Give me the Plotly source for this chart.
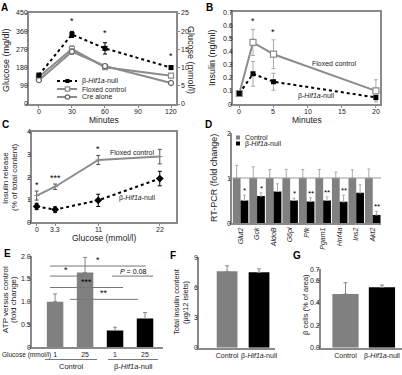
import plotly.graph_objects as go

W, H = 402, 375
def px(x): return x / W
def py(y): return 1 - y / H

FONT = "Liberation Sans, Arial, sans-serif"
GRAY = "#8c8c8c"
BARGRAY = "#808080"
AXC = "#8a8a8a"

# ---------------- Panel A: glucose tolerance ----------------
a_minutes = [0, 30, 60, 120]
a_null = [143, 344, 275, 180]
a_null_err = [8, 15, 28, 8]
a_flox = [133, 272, 182, 140]
a_flox_err = [8, 16, 8, 6]
a_cre = [118, 259, 188, 104]
a_cre_err = [6, 14, 10, 5]
a_star_minutes = [30, 60, 120]
a_xticks = [0, 30, 60, 90, 120]
a_yticks = [0, 90, 180, 270, 360, 450]
a_y2ticks = [0, 5, 10, 15, 20, 25]

# ---------------- Panel B: insulin in vivo ----------------
b_minutes = [0, 2, 5, 20]
b_flox = [0.08, 0.47, 0.38, 0.10]
b_flox_err = [0.01, 0.10, 0.11, 0.085]
b_null = [0.08, 0.23, 0.17, 0.05]
b_null_err = [0.01, 0.095, 0.065, 0.02]
b_star_minutes = [2, 5]
b_xticks = [0, 5, 10, 15, 20]
b_yticks = [0, 0.1, 0.2, 0.3, 0.4, 0.5, 0.6, 0.7]
b_ylabels = ["0", "0.1", "0.2", "0.3", "0.4", "0.5", "0.6", "0.7"]

# ---------------- Panel C: insulin release ----------------
c_glucose = [0, 3.3, 11, 22]
c_glucose_labels = ["0", "3.3", "11", "22"]
c_flox = [1.18, 1.57, 2.75, 2.9]
c_flox_err = [0.2, 0.12, 0.2, 0.32]
c_null = [0.7, 0.56, 0.97, 1.93]
c_null_err = [0.14, 0.12, 0.27, 0.32]
c_stars = ["*", "***", "*", ""]
c_yticks = [0, 1, 2, 3, 4]

# ---------------- Panel D: RT-PCR ----------------
d_genes = ["Glut2", "Gck", "AldoB", "G6pi", "Pfk", "Pgam1", "Hnf4a", "Ins2", "Akt2"]
d_control = [1, 1, 1, 1, 1, 1, 1, 1, 1]
d_control_err = [0.28, 0.25, 0.19, 0.19, 0.19, 0.19, 0.13, 0.18, 0.2]
d_null = [0.5, 0.6, 0.7, 0.5, 0.48, 0.5, 0.47, 0.67, 0.18]
d_null_err = [0.12, 0.07, 0.17, 0.05, 0.08, 0.08, 0.15, 0.18, 0.08]
d_stars = ["*", "*", "", "*", "**", "**", "**", "", "**"]
d_yticks = [0, 1, 2]

# ---------------- Panel E: ATP ----------------
e_keys = ["c1", "c25", "n1", "n25"]
e_glucose = ["1", "25", "1", "25"]
e_values = [1.0, 1.64, 0.37, 0.63]
e_err = [0.17, 0.33, 0.07, 0.13]
e_colors = [BARGRAY, BARGRAY, "black", "black"]
e_yticks = [0, 0.5, 1, 1.5, 2]
e_ylabels = ["0", "0.5", "1.0", "1.5", "2.0"]

# ---------------- Panel F: insulin content ----------------
f_groups = ["Control", "β-<i>Hif1a</i>-null"]
f_values = [7.6, 7.5]
f_err = [0.55, 0.35]
f_yticks = [0, 3, 6, 9]

# ---------------- Panel G: beta cells ----------------
g_groups = ["Control", "β-<i>Hif1a</i>-null"]
g_values = [0.48, 0.54]
g_err = [0.1, 0.02]
g_yticks = [0, 0.2, 0.4, 0.6, 0.7]
g_ylabels = ["0.0", "0.2", "0.4", "0.6", "0.7"]
bar_colors = [BARGRAY, "black"]

fig = go.Figure()

# Panel A traces
fig.add_trace(go.Scatter(x=a_minutes, y=a_flox, mode="lines+markers", xaxis="x", yaxis="y",
    line=dict(color=GRAY, width=2),
    marker=dict(symbol="square", size=5, color="white", line=dict(color=GRAY, width=1.2)),
    error_y=dict(type="data", array=a_flox_err, color=GRAY, thickness=1, width=2), showlegend=False))
fig.add_trace(go.Scatter(x=a_minutes, y=a_cre, mode="lines+markers", xaxis="x", yaxis="y",
    line=dict(color=GRAY, width=2),
    marker=dict(symbol="circle", size=5, color="white", line=dict(color="#666", width=1.2)),
    error_y=dict(type="data", array=a_cre_err, color=GRAY, thickness=1, width=2), showlegend=False))
fig.add_trace(go.Scatter(x=a_minutes, y=a_null, mode="lines+markers", xaxis="x", yaxis="y",
    line=dict(color="black", width=2, dash="dot"),
    marker=dict(symbol="square", size=5, color="black"),
    error_y=dict(type="data", array=a_null_err, color="black", thickness=1, width=2), showlegend=False))

# Panel B traces
fig.add_trace(go.Scatter(x=b_minutes, y=b_flox, mode="lines+markers", xaxis="x2", yaxis="y3",
    line=dict(color=GRAY, width=2),
    marker=dict(symbol="square", size=6, color="white", line=dict(color=GRAY, width=1.2)),
    error_y=dict(type="data", array=b_flox_err, color="#aaa", thickness=1, width=2), showlegend=False))
fig.add_trace(go.Scatter(x=b_minutes, y=b_null, mode="lines+markers", xaxis="x2", yaxis="y3",
    line=dict(color="black", width=2, dash="dot"),
    marker=dict(symbol="square", size=5, color="black"),
    error_y=dict(type="data", array=b_null_err, color="#aaa", thickness=1, width=2), showlegend=False))

# Panel C traces
fig.add_trace(go.Scatter(x=c_glucose, y=c_flox, mode="lines+markers", xaxis="x3", yaxis="y4",
    line=dict(color=GRAY, width=2),
    marker=dict(symbol="line-ew", size=4, color=GRAY, line=dict(color=GRAY, width=1)),
    error_y=dict(type="data", array=c_flox_err, color="#555", thickness=1, width=2), showlegend=False))
fig.add_trace(go.Scatter(x=c_glucose, y=c_null, mode="lines+markers", xaxis="x3", yaxis="y4",
    line=dict(color="black", width=2, dash="dot"),
    marker=dict(symbol="diamond", size=6, color="black"),
    error_y=dict(type="data", array=c_null_err, color="black", thickness=1, width=2), showlegend=False))

# Panel D traces
fig.add_trace(go.Bar(x=d_genes, y=d_control, xaxis="x4", yaxis="y5", marker_color=BARGRAY,
    error_y=dict(type="data", array=d_control_err, arrayminus=[0]*9, symmetric=False, color="#aaa", thickness=1, width=1.5),
    showlegend=False))
fig.add_trace(go.Bar(x=d_genes, y=d_null, xaxis="x4", yaxis="y5", marker_color="black",
    error_y=dict(type="data", array=d_null_err, arrayminus=[0]*9, symmetric=False, color="#aaa", thickness=1, width=1.5),
    showlegend=False))

# Panel E
fig.add_trace(go.Bar(x=e_keys, y=e_values, xaxis="x5", yaxis="y6", marker_color=e_colors, width=0.55,
    error_y=dict(type="data", array=e_err, arrayminus=[0]*4, symmetric=False, color="#888", thickness=1, width=2),
    showlegend=False))
# Panel F
fig.add_trace(go.Bar(x=f_groups, y=f_values, xaxis="x6", yaxis="y7", marker_color=bar_colors, width=0.65,
    error_y=dict(type="data", array=f_err, arrayminus=[0]*2, symmetric=False, color="#888", thickness=1, width=2),
    showlegend=False))
# Panel G
fig.add_trace(go.Bar(x=g_groups, y=g_values, xaxis="x7", yaxis="y8", marker_color=bar_colors, width=0.72,
    error_y=dict(type="data", array=g_err, arrayminus=[0]*2, symmetric=False, color="#888", thickness=1, width=2),
    showlegend=False))

def ax(**kw):
    base = dict(showgrid=False, zeroline=False, showline=True, linecolor=AXC, linewidth=1.5,
                ticks="outside", ticklen=2, tickcolor=AXC, tickwidth=1,
                tickfont=dict(family=FONT, size=7, color="#222"),
                automargin=False, ticklabeloverflow="allow")
    base.update(kw)
    return base

fig.update_layout(
    template="none",
    width=W, height=H, margin=dict(l=0, r=0, t=0, b=0),
    paper_bgcolor="white", plot_bgcolor="white",
    font=dict(family=FONT, size=8, color="#222"),
    bargap=0.06, bargroupgap=0,
    # A
    xaxis=ax(domain=[px(29), px(176)], range=[-9, 124.5], tickmode="array", tickvals=a_xticks, showticklabels=False, anchor="y", mirror=True),
    yaxis=ax(domain=[py(104), py(13)], range=[0, 450], tickmode="array", tickvals=a_yticks, showticklabels=False, anchor="x"),
    yaxis2=ax(domain=[py(104), py(13)], range=[0, 25], tickmode="array", tickvals=a_y2ticks, showticklabels=False,
              overlaying="y", side="right", anchor="x"),
    # B
    xaxis2=ax(domain=[px(233.3), px(380)], range=[-0.88, 20.6], tickmode="array", tickvals=b_xticks, showticklabels=False, anchor="y3", mirror=True),
    yaxis3=ax(domain=[py(104), py(12.3)], range=[0, 0.7], tickmode="array", tickvals=b_yticks, showticklabels=False, anchor="x2", mirror=True),
    # C
    xaxis3=ax(domain=[px(31.7), px(176)], range=[-0.89, 24.9], tickmode="array", tickvals=c_glucose, showticklabels=False, anchor="y4", mirror=True),
    yaxis4=ax(domain=[py(222.3), py(131.7)], range=[0, 4], tickmode="array", tickvals=c_yticks, showticklabels=False, anchor="x3", mirror=True),
    # D
    xaxis4=ax(domain=[px(232.3), px(381)], range=[-0.5, 8.5], anchor="y5", ticks="", tickangle=-90,
              tickmode="array", tickvals=d_genes, ticktext=["<i>%s</i>" % g for g in d_genes]),
    yaxis5=ax(domain=[py(223), py(133)], range=[0, 2], tickmode="array", tickvals=d_yticks, showticklabels=False, anchor="x4"),
    # E
    xaxis5=ax(domain=[px(31.7), px(163)], range=[-0.78, 3.6], anchor="y6", ticks="",
              tickmode="array", tickvals=e_keys, ticktext=e_glucose),
    yaxis6=ax(domain=[py(347.3), py(256)], range=[0, 2], tickmode="array", tickvals=e_yticks, showticklabels=False, anchor="x5"),
    # F
    xaxis6=ax(domain=[px(199.3), px(275)], range=[-0.87, 1.5], anchor="y7", ticks=""),
    yaxis7=ax(domain=[py(347.7), py(257.3)], range=[0, 9], tickmode="array", tickvals=f_yticks, showticklabels=False, anchor="x6"),
    # G
    xaxis7=ax(domain=[px(320.7), px(402)], range=[-0.68, 1.55], anchor="y8", ticks=""),
    yaxis8=ax(domain=[py(347.7), py(269.3)], range=[0, 0.7], tickmode="array", tickvals=g_yticks, showticklabels=False, anchor="x7"),
)

ann = []
shapes = []
TICKFONT = dict(family=FONT, size=7, color="#222")

def text_width(t, size=7):
    # approximate Liberation Sans advance widths
    w = 0.0
    for ch in t:
        w += 0.278 if ch in ".," else 0.556
    return w * size

def ylabels(xref, yref, vals, texts=None, right=False):
    texts = texts or [str(v) for v in vals]
    for v, t in zip(vals, texts):
        shift = 3 if right else -(3 + text_width(t))
        ann.append(dict(x=1 if right else 0, xref=xref + " domain", y=v, yref=yref, text=t, showarrow=False,
                        xanchor="left", xshift=shift, yanchor="middle", font=TICKFONT))

def xlabels(xref, yref, vals, texts=None):
    texts = texts or [str(v) for v in vals]
    for v, t in zip(vals, texts):
        ann.append(dict(x=v, xref=xref, y=0, yref=yref + " domain", text=t, showarrow=False,
                        xanchor="center", yanchor="top", yshift=-2, font=TICKFONT))

ylabels("x", "y", a_yticks)
ylabels("x", "y2", a_y2ticks, right=True)
xlabels("x", "y", a_xticks)
ylabels("x2", "y3", b_yticks, b_ylabels)
xlabels("x2", "y3", b_xticks)
ylabels("x3", "y4", c_yticks)
xlabels("x3", "y4", c_glucose, c_glucose_labels)
ylabels("x4", "y5", d_yticks)
ylabels("x5", "y6", e_yticks, e_ylabels)
ylabels("x6", "y7", f_yticks)
ylabels("x7", "y8", g_yticks, g_ylabels)

def ptext(x, y, text, size=9, angle=0, xanchor="center", yanchor="middle", bold=False, color="#222"):
    t = "<b>%s</b>" % text if bold else text
    ann.append(dict(x=px(x), y=py(y), xref="paper", yref="paper", text=t, showarrow=False,
                    textangle=angle, xanchor=xanchor, yanchor=yanchor,
                    font=dict(family=FONT, size=size, color=color)))

# panel letters
for L, x, y in [("A", -1, 7), ("B", 204, 7), ("C", 0, 124), ("D", 203, 124), ("E", 2, 253), ("F", 168, 255), ("G", 291, 255)]:
    ptext(x, y, L, size=10, bold=True, xanchor="left", color="black")

# axis titles
ptext(104, 119.5, "Minutes", 8.5)
ptext(6, 60, "Glucose (mg/dl)", 9, angle=-90)
ptext(191, 60, "Glucose (mmol/l)", 9, angle=90)
ptext(307, 119.5, "Minutes", 8.5)
ptext(212, 58, "Insulin (ng/ml)", 9, angle=-90)
ptext(104, 237.5, "Glucose (mmol/l)", 8.5)
ptext(5, 178, "Insulin release", 8, angle=-90)
ptext(14, 178, "(% of total content)", 8, angle=-90)
ptext(214, 178, "RT-PCR (fold change)", 9, angle=-90)
ptext(5, 300, "ATP versus control", 8, angle=-90)
ptext(13, 300, "(fold change)", 8, angle=-90)
ptext(176, 302, "Total insulin content", 7.5, angle=-90)
ptext(185, 302, "(μg/12 islets)", 7.5, angle=-90)
ptext(305, 305, "β cells (% of area)", 7.5, angle=-90)

# A stars
for m in a_star_minutes:
    i = a_minutes.index(m)
    ann.append(dict(x=m, y=a_null[i] + a_null_err[i], xref="x", yref="y", text="*", showarrow=False,
                    yanchor="bottom", yshift=3, font=dict(family=FONT, size=9, color="black")))
# A legend
leg = [(81, "β-<i>Hif1a</i>-null"), (89, "Floxed control"), (97, "Cre alone")]
shapes.append(dict(type="line", xref="paper", yref="paper", x0=px(57), x1=px(77), y0=py(81), y1=py(81),
                   line=dict(color="black", width=2, dash="dot")))
shapes.append(dict(type="rect", xref="paper", yref="paper", x0=px(65.5), x1=px(69.5), y0=py(83), y1=py(79),
                   fillcolor="black", line=dict(width=0)))
for yy in (89, 97):
    shapes.append(dict(type="line", xref="paper", yref="paper", x0=px(57), x1=px(77), y0=py(yy), y1=py(yy),
                       line=dict(color=GRAY, width=2)))
shapes.append(dict(type="rect", xref="paper", yref="paper", x0=px(65.3), x1=px(69.7), y0=py(91.2), y1=py(86.8),
                   fillcolor="white", line=dict(color=GRAY, width=1.2)))
shapes.append(dict(type="circle", xref="paper", yref="paper", x0=px(65.3), x1=px(69.7), y0=py(99.2), y1=py(94.8),
                   fillcolor="white", line=dict(color="#666", width=1.2)))
for yy, t in leg:
    ptext(80, yy, t, 7, xanchor="left")

# B stars and labels
for m in b_star_minutes:
    i = b_minutes.index(m)
    ann.append(dict(x=m, y=b_flox[i] + b_flox_err[i], xref="x2", yref="y3", text="*", showarrow=False,
                    yanchor="bottom", yshift=1, font=dict(family=FONT, size=9, color="black")))
ptext(334, 63, "Floxed control", 7)
ptext(316, 96, "β-<i>Hif1a</i>-null", 7)

# C stars and labels
for i, s in enumerate(c_stars):
    if s:
        ann.append(dict(x=c_glucose[i], y=c_flox[i] + c_flox_err[i], xref="x3", yref="y4", text=s, showarrow=False,
                        yanchor="bottom", yshift=-1, font=dict(family=FONT, size=9, color="black")))
ptext(132, 152.5, "Floxed control", 7)
ptext(137, 198, "β-<i>Hif1a</i>-null", 7)

# D reference line, stars and legend
shapes.append(dict(type="line", xref="x4 domain", yref="y5", x0=0, x1=1, y0=1, y1=1,
                   line=dict(color="#999", width=1)))
for i, s in enumerate(d_stars):
    if s:
        ann.append(dict(x=d_genes[i], y=d_null[i] + d_null_err[i], xref="x4", yref="y5", text=s, showarrow=False,
                        yanchor="bottom", xshift=4, yshift=-2, font=dict(family=FONT, size=8, color="black")))
shapes.append(dict(type="rect", xref="paper", yref="paper", x0=px(236), x1=px(240), y0=py(139.5), y1=py(135.5),
                   fillcolor=BARGRAY, line=dict(width=0)))
shapes.append(dict(type="rect", xref="paper", yref="paper", x0=px(236), x1=px(240), y0=py(145.5), y1=py(141.5),
                   fillcolor="black", line=dict(width=0)))
ptext(243, 137.5, "Control", 7, xanchor="left")
ptext(243, 143.5, "β-<i>Hif1a</i>-null", 7, xanchor="left")

# E significance brackets
brackets = [(-0.17, 3.03, 1.78, "*"), (-0.17, 0.93, 1.56, "*"), (1.9, 3.27, 1.56, "<i>P</i> = 0.08"),
            (-0.17, 2.27, 1.31, "***"), (0.5, 2.77, 1.05, "**")]
for x0, x1, yv, t in brackets:
    shapes.append(dict(type="line", xref="x5", yref="y6", x0=x0, x1=x1, y0=yv, y1=yv,
                       line=dict(color="#777", width=1)))
    ann.append(dict(x=(x0 + x1) / 2, y=yv, xref="x5", yref="y6", text=t, showarrow=False, yanchor="bottom",
                    yshift=-1, font=dict(family=FONT, size=7 if "P" in t else 9, color="black")))
ptext(0, 354.5, "Glucose (mmol/l)", 6.5, xanchor="left")
shapes.append(dict(type="line", xref="paper", yref="paper", x0=px(45), x1=px(97), y0=py(359.5), y1=py(359.5),
                   line=dict(color="#555", width=0.8)))
shapes.append(dict(type="line", xref="paper", yref="paper", x0=px(108), x1=px(158), y0=py(359.5), y1=py(359.5),
                   line=dict(color="#555", width=0.8)))
ptext(71, 366, "Control", 7.5)
ptext(133, 366, "β-<i>Hif1a</i>-null", 7.5)

fig.update_layout(annotations=ann, shapes=shapes)
fig.write_html("out.html")
